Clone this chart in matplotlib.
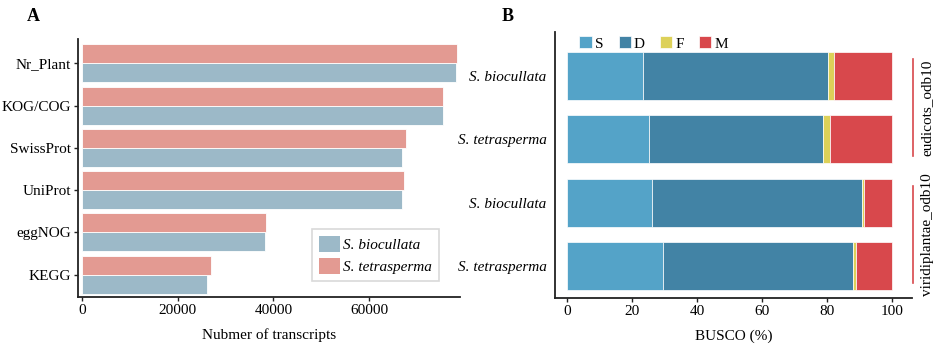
import numpy as np
import matplotlib
matplotlib.use("Agg")
import matplotlib.pyplot as plt
from matplotlib.patches import Patch

plt.rcParams.update({
    "font.family": "serif",
    "font.serif": ["Liberation Serif", "DejaVu Serif"],
    "font.size": 11,
    "axes.linewidth": 1.3,
    "axes.edgecolor": "#222222",
})

# ---- panel A data ----
databases = ["KEGG", "eggNOG", "UniProt", "SwissProt", "KOG/COG", "Nr_Plant"]
biocullata_counts = [26100, 38300, 66900, 66900, 75450, 78100]
tetrasperma_counts = [26900, 38500, 67350, 67800, 75500, 78300]

# ---- panel B data ----
species = ["S. tetrasperma", "S. biocullata", "S. tetrasperma", "S. biocullata"]
datasets = ["viridiplantae_odb10", "viridiplantae_odb10", "eudicots_odb10", "eudicots_odb10"]
busco_S = [29.4, 26.1, 25.2, 23.4]
busco_D = [58.4, 64.6, 53.4, 56.7]
busco_F = [1.0, 0.7, 2.2, 2.0]
busco_M = [11.2, 8.6, 19.2, 17.9]

col_bio = "#9cb9c8"
col_tet = "#e39a92"
busco_colors = {"S": "#54a3c8", "D": "#4283a5", "F": "#ddd159", "M": "#d8484c"}

fig = plt.figure(figsize=(9.41, 3.59), dpi=100)

# ---------------- panel A ----------------
axA = fig.add_axes([0.0829, 0.1727, 0.4059, 0.7186])
y = np.arange(len(databases))
h = 0.45
axA.barh(y - h / 2, biocullata_counts, height=h, color=col_bio, edgecolor="white", linewidth=0.6)
axA.barh(y + h / 2, tetrasperma_counts, height=h, color=col_tet, edgecolor="white", linewidth=0.6)
axA.set_yticks(y)
axA.set_yticklabels(databases)
axA.set_xticks([0, 20000, 40000, 60000])
axA.set_xlim(-850, 79000)
axA.set_ylim(-0.53, 5.575)
axA.set_xlabel("Nubmer of transcripts", labelpad=8)
for s in ["top", "right"]:
    axA.spines[s].set_visible(False)
axA.tick_params(length=3, width=1, color="#222222", pad=2)

handles = [Patch(facecolor=col_bio, label="S. biocullata"),
           Patch(facecolor=col_tet, label="S. tetrasperma")]
legA = axA.legend(handles=handles, loc="lower left", bbox_to_anchor=(0.6, 0.045),
                  fancybox=False, edgecolor="#d0d0d0", handlelength=1.4, handleheight=1.2,
                  handletextpad=0.2, borderpad=0.45, labelspacing=0.4, borderaxespad=0.3,
                  prop={"style": "italic", "size": 11})
legA.get_frame().set_linewidth(1.2)
fig.text(0.028, 0.955, "A", fontsize=13, fontweight="bold", va="center")

# ---------------- panel B ----------------
axB = fig.add_axes([0.5898, 0.1699, 0.3791, 0.7410])
yb = np.arange(len(species))
left = np.zeros(len(species))
for key, vals in zip(["S", "D", "F", "M"], [busco_S, busco_D, busco_F, busco_M]):
    axB.barh(yb, vals, left=left, height=0.75, color=busco_colors[key],
             edgecolor="white", linewidth=0.5, label=key)
    left += np.array(vals)
axB.set_yticks(yb)
axB.set_yticklabels(species, style="italic")
axB.set_xticks([0, 20, 40, 60, 80, 100])
axB.set_xlim(-3.7, 106)
axB.set_ylim(-0.5, 3.69)
axB.set_xlabel("BUSCO (%)", labelpad=8)
for s in ["top", "right"]:
    axB.spines[s].set_visible(False)
axB.tick_params(length=3, width=1, color="#222222", pad=2)
axB.tick_params(axis="y", length=0, pad=6)

legB = axB.legend(loc="upper left", bbox_to_anchor=(0.03, 1.035), ncol=4, frameon=False,
                  handlelength=0.8, handleheight=0.8, handletextpad=0.2, columnspacing=1.0,
                  fontsize=11)

# dataset strips on the right
trans = axB.get_yaxis_transform()
groups = {}
for i, d in enumerate(datasets):
    groups.setdefault(d, []).append(yb[i])
for d, ys in groups.items():
    c = np.mean(ys)
    axB.plot([1.003, 1.003], [c - 0.765, c + 0.765], color="#d8484c", lw=1.2,
             transform=trans, clip_on=False)
    axB.text(1.043, c, d, rotation=90, ha="center", va="center", transform=trans, fontsize=11)

fig.text(0.533, 0.955, "B", fontsize=13, fontweight="bold", va="center")

fig.savefig("out.png", dpi=100)
